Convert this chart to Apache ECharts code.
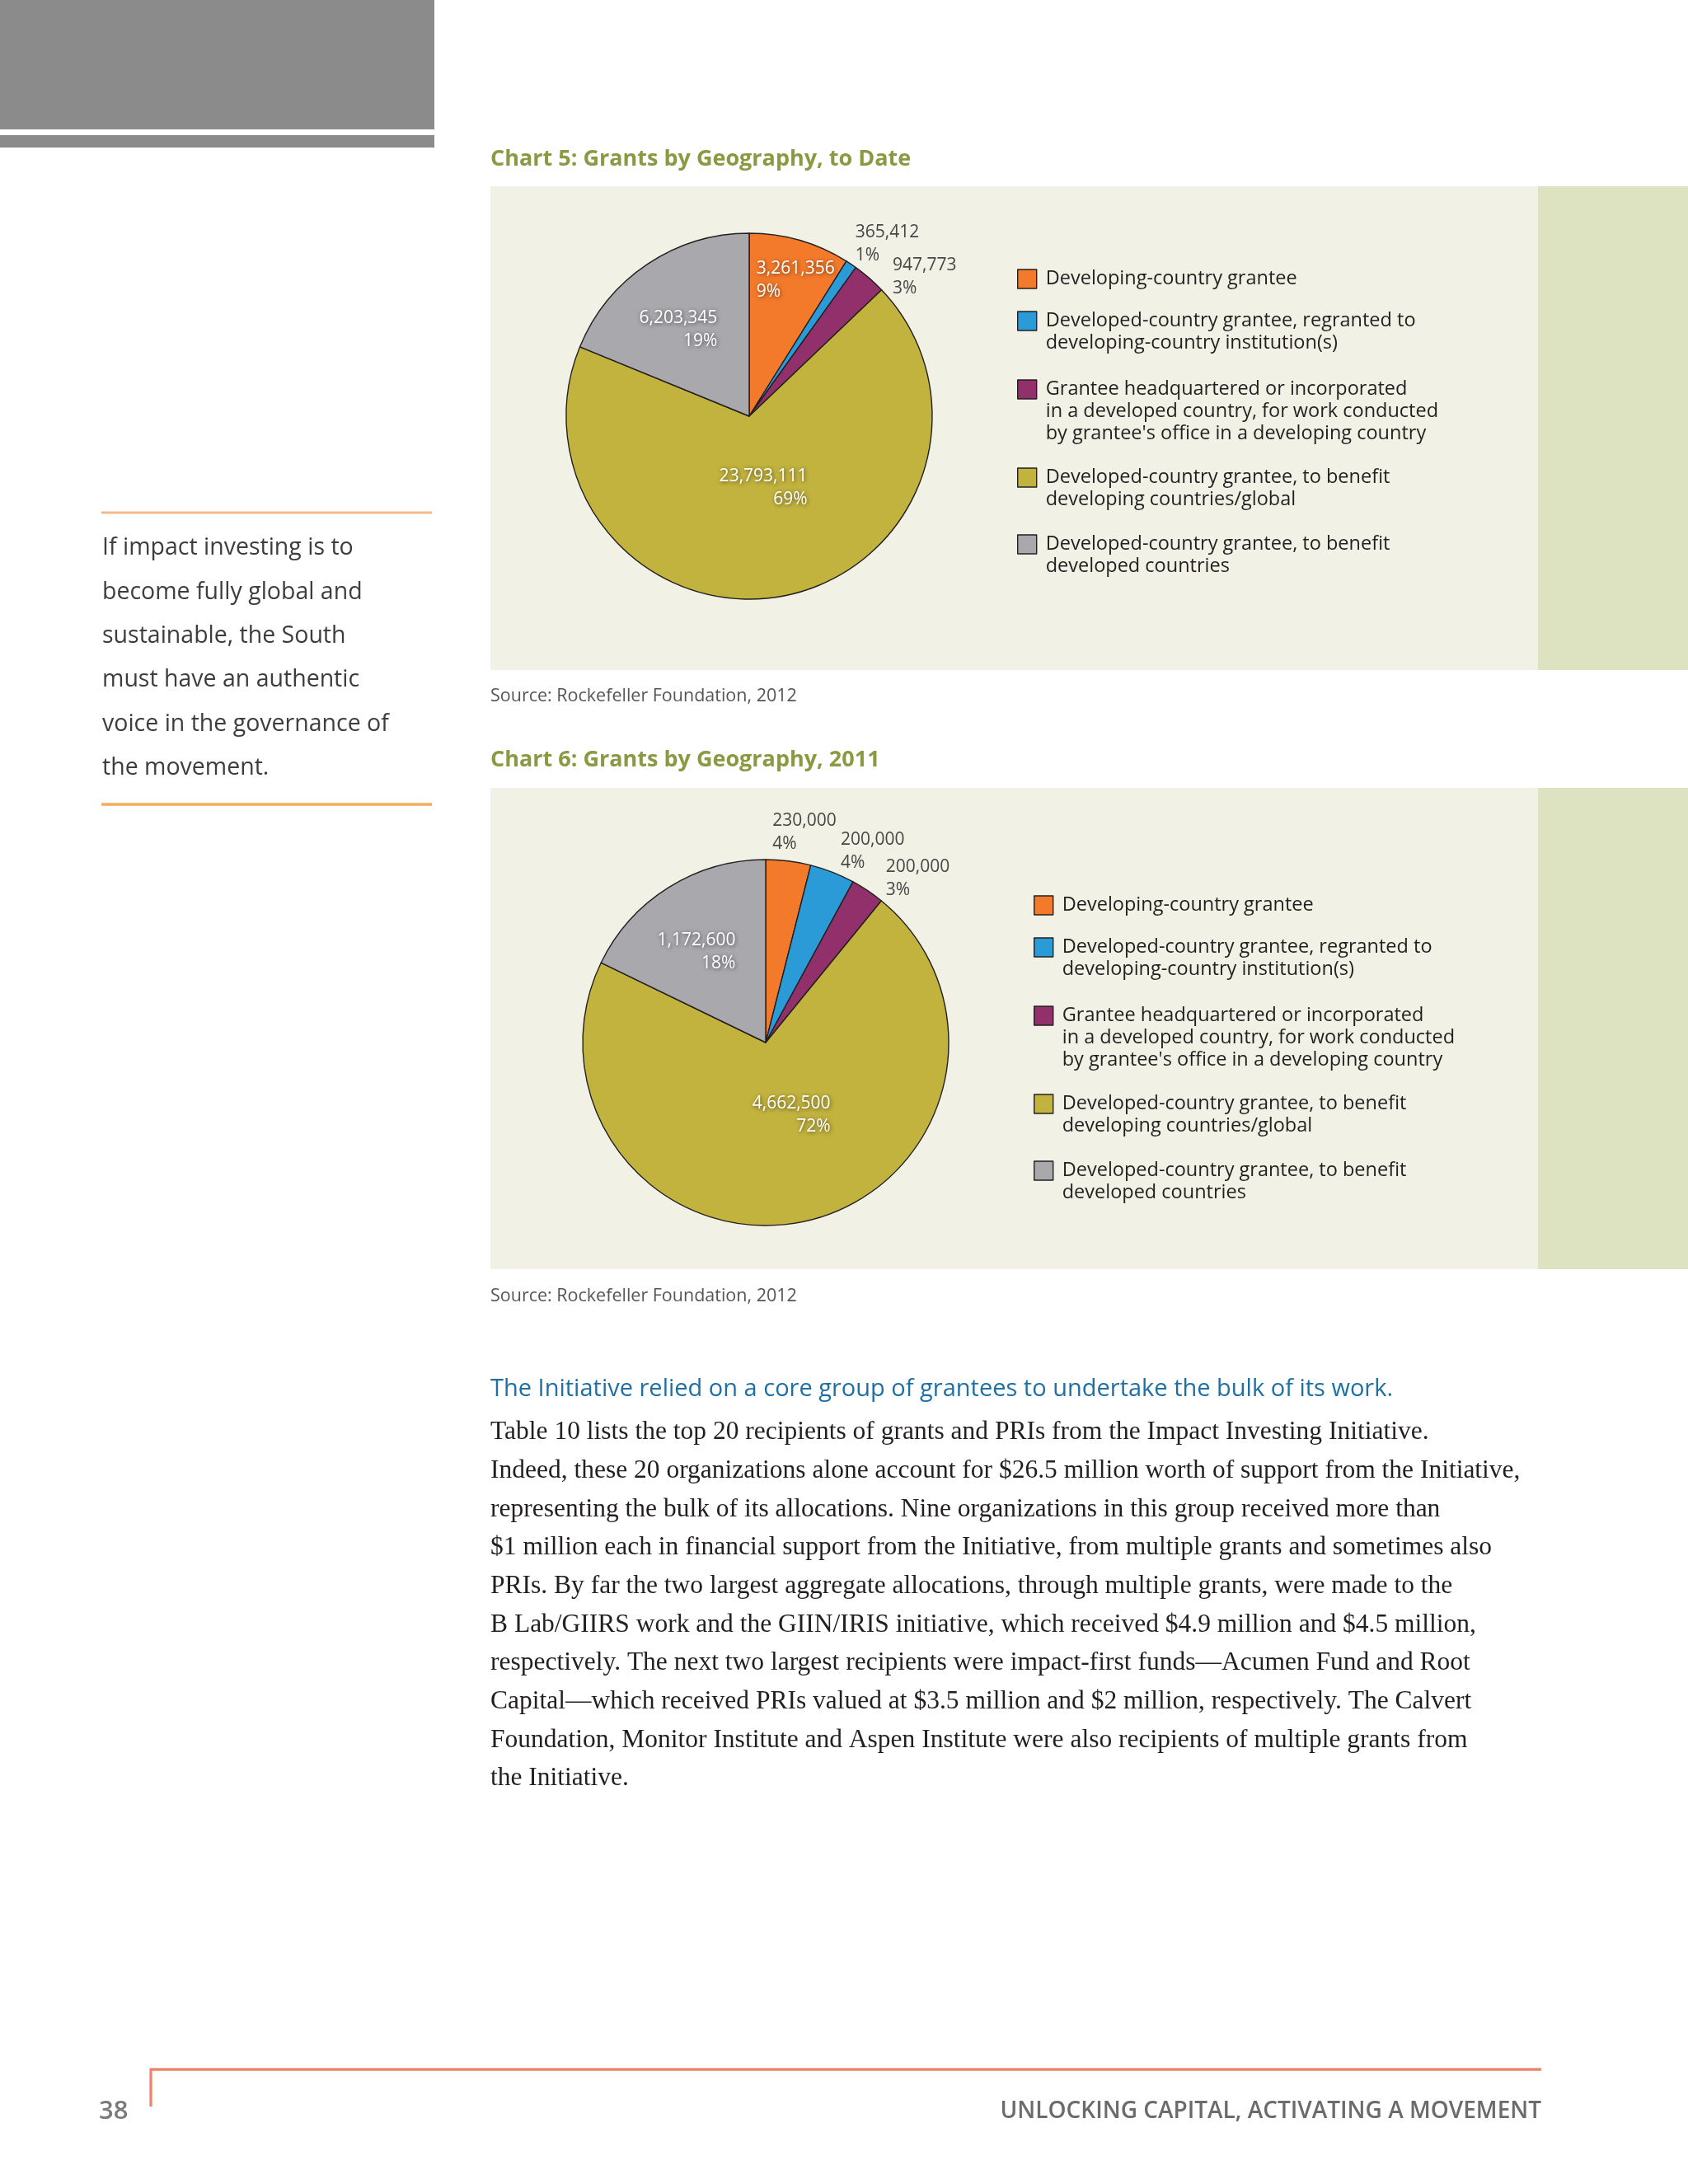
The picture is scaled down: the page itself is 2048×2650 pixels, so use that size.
<!DOCTYPE html>
<html><head><meta charset="utf-8">
<script src="https://cdn.jsdelivr.net/npm/echarts@6/dist/echarts.min.js"></script>
<style>html,body{margin:0;padding:0;background:#fff}#c{width:2048px;height:2650px}</style>
</head><body><div id="c"></div>
<script>
// ---------------- data ----------------
const categories = [
  'Developing-country grantee',
  'Developed-country grantee, regranted to\ndeveloping-country institution(s)',
  'Grantee headquartered or incorporated\nin a developed country, for work conducted\nby grantee\'s office in a developing country',
  'Developed-country grantee, to benefit\ndeveloping countries/global',
  'Developed-country grantee, to benefit\ndeveloped countries'
];
const amounts5 = [3261356, 365412, 947773, 23793111, 6203345];
const percents5 = [9, 1, 3, 69, 19];
const amounts6 = [230000, 200000, 200000, 4662500, 1172600];
const percents6 = [4, 4, 3, 72, 18];

const title5 = 'Chart 5: Grants by Geography, to Date';
const title6 = 'Chart 6: Grants by Geography, 2011';
const sourceText = 'Source: Rockefeller Foundation, 2012';
const quoteLines = ['If impact investing is to', 'become fully global and', 'sustainable, the South',
  'must have an authentic', 'voice in the governance of', 'the movement.'];
const heading = 'The Initiative relied on a core group of grantees to undertake the bulk of its work.';
const bodyLines = [
  'Table 10 lists the top 20 recipients of grants and PRIs from the Impact Investing Initiative.',
  'Indeed, these 20 organizations alone account for $26.5 million worth of support from the Initiative,',
  'representing the bulk of its allocations. Nine organizations in this group received more than',
  '$1 million each in financial support from the Initiative, from multiple grants and sometimes also',
  'PRIs. By far the two largest aggregate allocations, through multiple grants, were made to the',
  'B Lab/GIIRS work and the GIIN/IRIS initiative, which received $4.9 million and $4.5 million,',
  'respectively. The next two largest recipients were impact-first funds\u2014Acumen Fund and Root',
  'Capital\u2014which received PRIs valued at $3.5 million and $2 million, respectively. The Calvert',
  'Foundation, Monitor Institute and Aspen Institute were also recipients of multiple grants from',
  'the Initiative.'
];
const pageNumber = '38';
const footerText = 'UNLOCKING CAPITAL, ACTIVATING A MOVEMENT';

// ---------------- styles / layout ----------------
const FONT = '"Open Sans", "Noto Sans", sans-serif';
const colors = ['#f47a2b', '#2a9bd7', '#92306b', '#c2b23e', '#a9a8ad'];
const insideLabel = {color: '#ffffff', textShadowColor: 'rgba(0,0,0,0.6)', textShadowBlur: 5, textShadowOffsetX: 1, textShadowOffsetY: 1};
const outsideLabel = {color: '#474747', textShadowBlur: 0, textShadowColor: 'transparent'};

const cfg5 = {
  center: [909, 505], r: 222, legendLeft: 1234, legendIconTops: [327, 378, 461, 568, 649],
  inside: [true, false, false, true, true], align: ['left', 'left', 'left', 'right', 'right'],
  offsets: [[-22.7, -55.3], [65.2, -114.8], [99.2, -83.2], [49.4, -25.1], [24.9, -10.4]]
};
const cfg6 = {
  center: [929, 1265], r: 222, legendLeft: 1254, legendIconTops: [1087, 1138, 1221, 1328, 1409],
  inside: [false, false, false, true, true], align: ['left', 'left', 'left', 'right', 'right'],
  offsets: [[-5.8, -141.9], [49.5, -125.6], [82.2, -104.8], [54, -22.9], [24, -13]]
};

function pieSeries(id, amounts, pcts, cfg) {
  return {
    type: 'pie', id: id, center: cfg.center, radius: [0, cfg.r], startAngle: 90, clockwise: true,
    silent: true, avoidLabelOverlap: false, animation: false,
    itemStyle: {borderColor: '#231f20', borderWidth: 1.4},
    label: {
      show: true, position: 'inside', fontFamily: FONT, fontSize: 21, lineHeight: 28,
      formatter: p => amounts[p.dataIndex].toLocaleString('en-US') + '\n' + pcts[p.dataIndex] + '%'
    },
    labelLine: {show: false},
    labelLayout: p => ({
      dx: cfg.offsets[p.dataIndex][0], dy: cfg.offsets[p.dataIndex][1],
      align: cfg.align[p.dataIndex], verticalAlign: 'middle'
    }),
    data: categories.map((name, i) => ({
      name: name, value: pcts[i], itemStyle: {color: colors[i]},
      label: cfg.inside[i] ? insideLabel : outsideLabel
    }))
  };
}

// one legend per entry; the icon box is as tall as the text block so the
// square sits beside the first line of a wrapped entry
function legendsFor(cfg) {
  const lh = 26.7, sq = 23, y0 = (lh - sq) / 2;
  return categories.map((name, i) => {
    const n = name.split('\n').length;
    const h = n * lh;
    return {
      left: cfg.legendLeft, top: cfg.legendIconTops[i] - y0 - 0.7, orient: 'vertical', padding: 0,
      itemWidth: sq, itemHeight: h, selectedMode: false,
      icon: 'path://M0,0M' + sq + ',' + h + 'M0,' + y0 + 'h' + sq + 'v' + sq + 'h-' + sq + 'z',
      data: [{name: name}],
      itemStyle: {borderColor: '#231f20', borderWidth: 1.4},
      textStyle: {fontFamily: FONT, fontSize: 23.5, lineHeight: lh, color: '#231f20', padding: [0, 0, 0, 6]}
    };
  });
}

function txt(x, y, text, size, color, extra) {
  return {type: 'text', z: 1, style: Object.assign({
    x: x, y: y, text: text, fontFamily: FONT, fontSize: size, fill: color,
    align: 'left', verticalAlign: 'middle'
  }, extra || {})};
}
function rect(x, y, w, h, fill) {
  return {type: 'rect', z: 0, shape: {x: x, y: y, width: w, height: h}, style: {fill: fill}};
}
function line(x1, y1, x2, y2, color, w) {
  return {type: 'line', z: 1, shape: {x1: x1, y1: y1, x2: x2, y2: y2}, style: {stroke: color, lineWidth: w}};
}

const graphics = [
  rect(0, 0, 527, 157, '#8b8b8b'),
  rect(0, 164, 527, 15, '#8b8b8b'),
  // chart 5 frame
  txt(595, 193, title5, 27, '#8b9a42', {fontWeight: 'bold'}),
  rect(595, 226, 1271, 587, '#f1f2e5'),
  rect(1866, 226, 182, 587, '#dde3c0'),
  txt(595, 845, sourceText, 21.5, '#555555'),
  // chart 6 frame
  txt(595, 922, title6, 27, '#8b9a42', {fontWeight: 'bold'}),
  rect(595, 956, 1271, 584, '#f1f2e5'),
  rect(1866, 956, 182, 584, '#dde3c0'),
  txt(595, 1573, sourceText, 21.5, '#555555'),
  // sidebar quote
  line(123, 622, 524, 622, '#f6b98a', 3),
  line(123, 976, 524, 976, '#f3ad5a', 3.5),
  txt(124, 638.3, quoteLines.join('\n'), 28.5, '#3d3d3d', {lineHeight: 53.4, verticalAlign: 'top'}),
  // body
  txt(595, 1686, heading, 29, '#1e6fa3'),
  txt(595, 1714.7, bodyLines.join('\n'), 31.5, '#231f20', {fontFamily: '"Liberation Serif", "DejaVu Serif", serif', lineHeight: 46.67, verticalAlign: 'top'}),
  // footer
  line(183, 2511, 1870, 2511, '#ec8570', 3.3),
  line(183, 2509.5, 183, 2556, '#ec8570', 3.3),
  txt(120, 2562, pageNumber, 31, '#7a7a7a', {fontWeight: 600}),
  txt(1870, 2562, footerText, 28, '#6b6b6b', {fontWeight: 600, align: 'right'})
];

const chart = echarts.init(document.getElementById('c'), null, {renderer: 'canvas'});
chart.setOption({
  animation: false,
  backgroundColor: '#ffffff',
  graphic: graphics,
  legend: legendsFor(cfg5).concat(legendsFor(cfg6)),
  series: [pieSeries('pie5', amounts5, percents5, cfg5), pieSeries('pie6', amounts6, percents6, cfg6)]
});
</script></body></html>
